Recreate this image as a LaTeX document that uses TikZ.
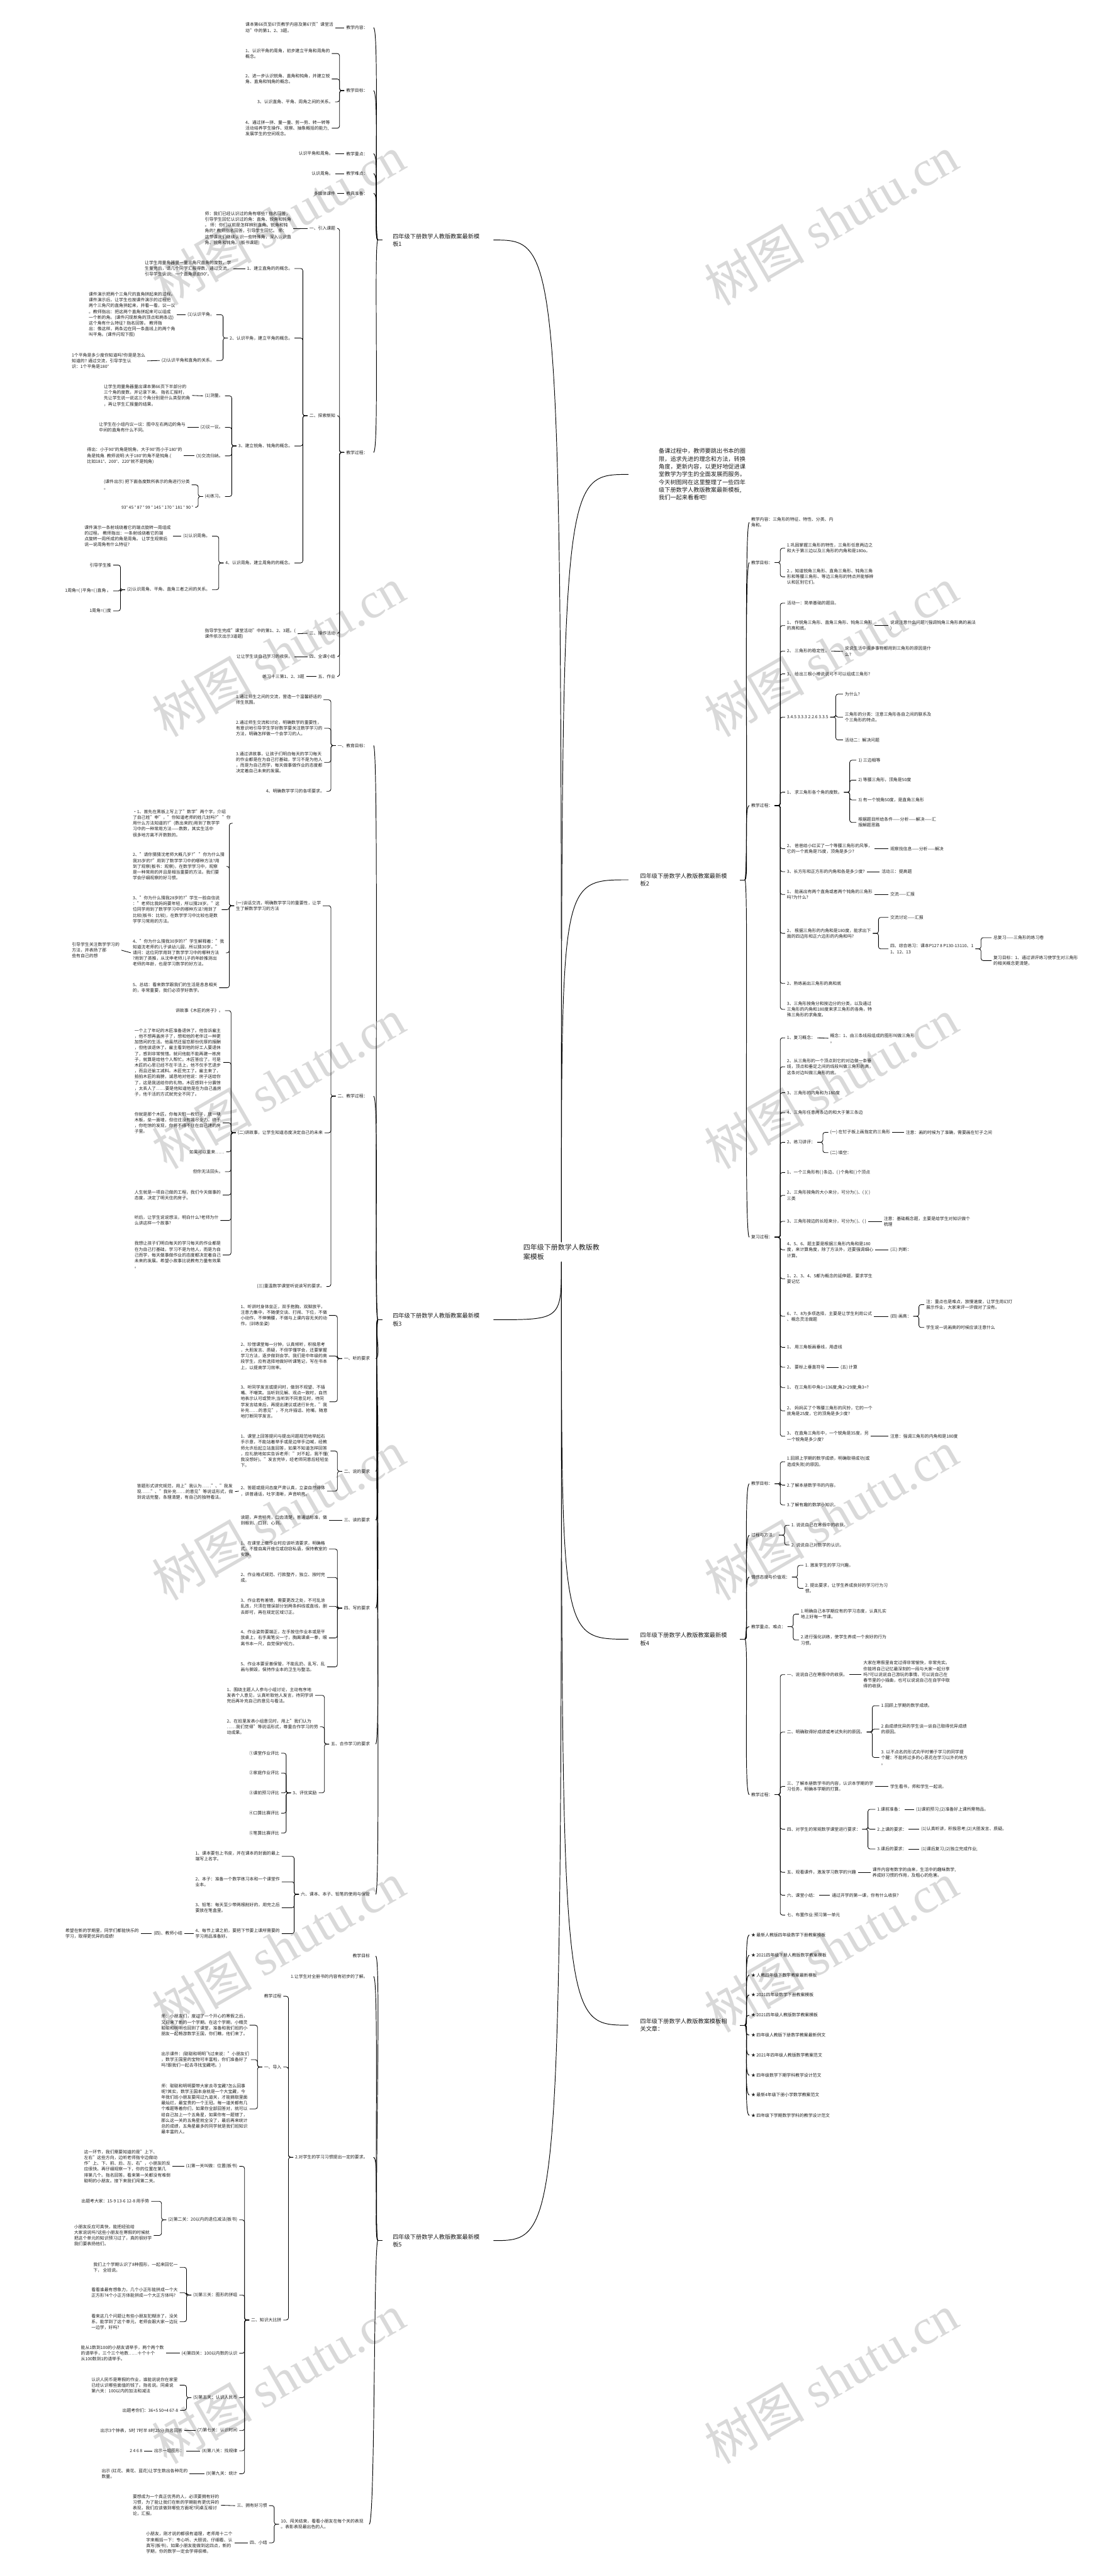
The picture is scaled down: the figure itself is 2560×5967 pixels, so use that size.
\documentclass[tikz,border=0pt]{standalone}
\usepackage{fontspec}
\setmainfont{Noto Sans CJK SC}
\newfontfamily\wmlat{Liberation Serif}
\newcommand\fs{\fontsize{5pt}{6.7pt}\selectfont}
\newcommand\fb{\fontsize{6.7pt}{9pt}\selectfont}
\newcommand\frt{\fontsize{8pt}{11pt}\selectfont}
\newcommand\fwm{\fontsize{58pt}{60pt}\selectfont}
\tikzset{
  lf/.style={font=\fs, text=black!88, align=left, anchor=west, inner xsep=2pt, inner ysep=0.3pt, xshift=-2pt},
  lfe/.style={font=\fs, text=black!88, align=left, anchor=east, inner xsep=2pt, inner ysep=0.3pt, xshift=2pt},
  bnode/.style={font=\fb, text=black!88, align=left, anchor=west, inner sep=0pt},
  cn/.style={line width=0.6pt},
  bk/.style={line width=0.6pt, rounded corners=2.5pt},
  tk/.style={line width=0.7pt},
  wm/.style={font=\fwm, text=black!15, rotate=30, inner sep=0pt},
}
\newcommand\LB[2]{\path ([xshift=-5.5pt]#1.west) coordinate (tmpb);
  \draw[bk] (#2.east) -- (tmpb |- #2.east) -- (tmpb) -- (#1.west);}
\newcommand\RB[2]{\path ([xshift=6.5pt]#1.east) coordinate (tmpb);
  \draw[bk] (#1.east) -- (tmpb) -- (tmpb |- #2.west) -- (#2.west);}
\newcommand\LL[2]{\draw[cn] (#2.east) -- (#1.west);}
\newcommand\RL[2]{\draw[cn] (#1.east) -- (#2.west);}
\newcommand\LT[2]{\draw[tk] ([xshift=-17pt]#1.west) .. controls +(-10,0) and +(14,0) .. ([xshift=4.5pt]#2.east);}
\newcommand\RT[2]{\draw[tk] ([xshift=20.5pt]#1.east) .. controls +(10,0) and +(-14,0) .. (#2.west);}
\begin{document}
\begin{tikzpicture}[x=0.5pt,y=-0.5pt]
\useasboundingbox (0,0) rectangle (2560,5967);
\fill[white] (0,0) rectangle (2560,5967);
% watermarks
\foreach \wy in {510,1510,2510,3510,4510,5510}{
  \node[wm] at (645,\wy) {树图 {\wmlat shutu.cn}};
  \node[wm] at (1925,\wy) {树图 {\wmlat shutu.cn}};
}
% ================= root
\node[font=\frt, text=black!88, align=left, inner sep=2pt] (RT) at (1300,2900) {四年级下册数学人教版教\\案模板};

% ================= left branch 1
\node[bnode] (L1) at (909,556) {四年级下册数学人教版教案最新模\\板1};
\node[lfe] (a1) at (852,64) {教学内容：};
\node[lf] (a1a) at (568,64) {课本第66页至67页教学内容及第67页"课堂活\\动"中的第1、2、3题。};
\node[lfe] (a2) at (852,210) {教学目标：};
\node[lf] (a2a) at (568,124) {1、认识平角的周角，初步建立平角和周角的\\概念。};
\node[lf] (a2b) at (568,183) {2、进一步认识锐角、直角和钝角，并建立锐\\角、直角和钝角的概念。};
\node[lfe] (a2c) at (772,236) {3、认识直角、平角、周角之间的关系。};
\node[lf] (a2d) at (568,297) {4、通过拼一拼、量一量、剪一剪、转一转等\\活动培养学生操作、观察、抽象概括的能力,\\发展学生的空间观念。};
\node[lfe] (a3) at (852,356) {教学重点：};
\node[lfe] (a3a) at (772,356) {认识平角和周角。};
\node[lfe] (a4) at (852,402) {教学难点：};
\node[lfe] (a4a) at (772,402) {认识周角。};
\node[lfe] (a5) at (852,448) {教具准备：};
\node[lfe] (a5a) at (777,448) {多媒体课件};
\node[lfe] (a6) at (852,1048) {教学过程：};
\node[lfe] (b1) at (777,529) {一、引入课题};
\node[lf] (b1a) at (474,529) {师：我们已经认识过的角有哪些? 指名回答，\\引导学生回忆认识过的角：直角、锐角和钝角\\。 师：你们以前是怎样辨别直角、锐角和钝\\角的? 教师指名回答，引导学生回忆。 师：\\这节课我们继续认识一些特殊角，深入认识直\\角、锐角和钝角。(板书课题)};
\node[lfe] (b2) at (777,963) {二、探索新知};
\node[lfe] (c1) at (678,622) {1、建立直角的的概念。};
\node[lf] (c1a) at (335,622) {让学生用量角器量一量三角尺直角的度数，学\\生量完后，请几个同学汇报得数，通过交流，\\引导学生认识：一个直角是由90°。};
\node[lfe] (c2) at (678,783) {2、认识平角，建立平角的概念。};
\node[lfe] (c2a) at (497,729) {(1)认识平角。};
\node[lfe] (c2aa) at (406,729) {课件演示把两个三角尺的直角拼起来的过程。\\课件演示后，让学生也按课件演示的过程把\\两个三角尺的直角拼起来，并看一看，议一议\\。教师指出：把这两个直角拼起来可以组成\\一个新的角。(课件闪现新角的顶点和两条边)\\这个角有什么特征? 指名回答。 教师指\\出：像这样，两条边在同一条直线上的两个角\\叫平角。(课件闪现下图)};
\node[lfe] (c2b) at (497,835) {(2)认识平角和直角的关系。};
\node[lfe] (c2ba) at (337,836) {1个平角是多少度你知道吗?你是是怎么\\知道的? 通过交流，引导学生认\\识：1个平角是180°};
\node[lfe] (c3) at (678,1033) {3、建立锐角、钝角的概念。};
\node[lfe] (c3a) at (517,917) {(1)测量。};
\node[lf] (c3aa) at (240,916) {让学生用量角器量出课本第66页下半部分的\\三个角的度数，并记录下来。 指名汇报时，\\先让学生说一说这三个角分别是什么类型的角\\，再让学生汇报量的结果。};
\node[lfe] (c3b) at (517,990) {(2)议一议。};
\node[lf] (c3ba) at (229,990) {让学生在小组内议一议：图中左右两边的角与\\中间的直角有什么不同。};
\node[lfe] (c3c) at (517,1056) {(3)交流归纳。};
\node[lfe] (c3ca) at (422,1056) {得出：小于90°的角是锐角，大于90°而小于180°的\\角是钝角. 教师说明:大于180°的角不是钝角.(\\比如181°、200°、220°就不是钝角)};
\node[lfe] (c3d) at (517,1150) {(4)练习。};
\node[lf] (c3da) at (240,1123) {(课件出示) 把下面各度数所表示的角进行分类\\。};
\node[lfe] (c3db) at (448,1175) {93° 45 ° 87 ° 99 ° 145 ° 170 ° 181 ° 90 °};
\node[lfe] (c4) at (678,1304) {4、认识周角，建立周角的的概念。};
\node[lfe] (c4a) at (487,1242) {(1)认识周角。};
\node[lfe] (c4aa) at (396,1242) {课件演示一条射线绕着它的端点旋转一周组成\\的过程。 教师指出：一条射线绕着它的端\\点旋转一周所成的角是周角。 让学生观察后\\说一说周角有什么特征?};
\node[lfe] (c4b) at (487,1366) {(2)认识周角、平角、直角三者之间的关系。};
\node[lfe] (c4b1) at (258,1309) {引导学生推};
\node[lfe] (c4b2) at (258,1369) {1周角=( )平角=( )直角 。};
\node[lfe] (c4b3) at (258,1415) {1周角=( )度};
\node[lfe] (b3) at (777,1467) {三、操作活动};
\node[lf] (b3a) at (474,1468) {指导学生完成"课堂活动"中的第1、2、3题。(\\课件依次出示3道题)};
\node[lfe] (b4) at (777,1521) {四、全课小结};
\node[lfe] (b4a) at (678,1521) {让让学生谈自己学习的收获。};
\node[lfe] (b5) at (777,1567) {五、作业};
\node[lfe] (b5a) at (705,1567) {练习十三第1、2、3题};

% ================= left branch 3
\node[bnode] (L3) at (909,3057) {四年级下册数学人教版教案最新模\\板3};
\node[lfe] (d1) at (852,1727) {一、教育目标：};
\node[lf] (d1a) at (546,1621) {1.通过师生之间的交流，营造一个温馨舒适的\\师生氛围。};
\node[lf] (d1b) at (546,1687) {2.通过师生交流和讨论，明确数学的重要性，\\有意识地引导学生学好数学要关注数学学习的\\方法，明确怎样做一个会学习的人。};
\node[lf] (d1c) at (546,1766) {3.通过讲故事，让孩子们明白每天的学习每天\\的作业都是在为自己打基础，学习不是为他人\\，而是为自己而学，每天做事做作业的态度都\\决定着自己未来的发展。};
\node[lfe] (d1d) at (752,1833) {4、明确数学学习的各项要求。};
\node[lfe] (d2) at (852,2539) {二、教学过程：};
\node[lf] (e1) at (546,2098) {(一)谈话交流，明确数学学习的重要性，让学\\生了解数学学习的方法};
\node[lf] (e1a) at (307,1907) {·1、首先在黑板上写上了"数学"两个字，介绍\\了自己姓"申"，"你知道老师的姓几划吗?" "你\\用什么方法知道的?"(数出来的)用到了数学学\\习中的一种常用方法——数数，其实生活中\\很多地方离不开数数的。};
\node[lf] (e1b) at (307,2007) {2、"请你猜猜沈老师大概几岁?" "你为什么猜\\我35岁的?"用到了数学学习中的哪种方法?用\\到了观察(板书：观察)，在数学学习中，观察\\是一种常用的并且是相当重要的方法。我们要\\学会仔细观察的好习惯。};
\node[lf] (e1c) at (307,2107) {3、"你为什么猜我28岁的?"学生一脸自信说\\："老师比我妈妈要年轻，所以猜28岁。"这\\位同学用到了数学学习中的哪种方法?用到了\\比较(板书：比较)，在数学学习中比较也是数\\学学习常用的方法。};
\node[lf] (e1d) at (307,2207) {4、"你为什么猜我30岁的?"学生解释着："我\\知道沈老师的儿子读幼儿园，所以猜30岁。"\\请问：这位同学用到了数学学习中的哪种方法\\?用到了类推，从沈申老师儿子的年龄推测出\\老师的年龄，也是学习数学的好方法。};
\node[lfe] (e1da) at (277,2201) {引导学生关注数学学习的\\方法，并表扬了那\\些有自己的想};
\node[lf] (e1e) at (307,2288) {5、总结：看来数学跟我们的生活是息息相关\\的，非常重要，我们必须学好数学。};
\node[lf] (e2) at (550,2624) {(二)讲故事，让学生知道态度决定自己的未来};
\node[lfe] (e2a) at (517,2341) {讲故事《木匠的房子》。};
\node[lf] (e2b) at (311,2461) {一个上了年纪的木匠准备退休了。他告诉雇主\\，他不想再盖房子了，想和他的老伴过一种更\\加悠闲的生活。他虽然还留恋那份优厚的报酬\\，但他该退休了。雇主看到他的好工人要退休\\了，感到非常惋惜。就问他能不能再建一栋房\\子，就算是给他个人帮忙。木匠答应了。可是\\木匠的心思已经不在干活上，他不仅手艺退步\\，而且还偷工减料。木匠完工了。雇主来了，\\拍拍木匠的肩膀，诚恳地对他说：房子送给你\\了，这是我送给你的礼物。木匠感到十分震惊\\，太丢人了……要是他知道他是在为自己盖房\\子，他干活的方式就完全不同了。};
\node[lf] (e2c) at (311,2601) {你就是那个木匠。你每天钉一枚钉子，放一块\\木板，垒一面墙，但往往没有竭尽全力。终于\\，你吃惊的发现，你将不得不住在自己建的房\\子里。};
\node[lfe] (e2d) at (520,2668) {如果可以重来……};
\node[lfe] (e2e) at (517,2714) {但你无法回头。};
\node[lf] (e2f) at (311,2768) {人生就是一项自己做的工程，我们今天做事的\\态度，决定了明天住的房子。};
\node[lf] (e2g) at (311,2827) {听后，让学生说说想法，明白什么?老师为什\\么讲这样一个故事?};
\node[lf] (e2h) at (311,2907) {我想让孩子们明白每天的学习每天的作业都是\\在为自己打基础，学习不是为他人，而是为自\\己而学，每天做事做作业的态度都决定着自己\\未来的发展。希望小故事比说教有力量有效果\\。};
\node[lfe] (e3) at (752,2980) {(三)重温数学课堂听说读写的要求。};
\node[lfe] (d3) at (857,3147) {一、听的要求};
\node[lf] (f1) at (557,3047) {1、听讲时身体坐正，双手抱胸，双脚放平，\\注意力集中，不随便交谈、打闹、下位，不做\\小动作，不伸懒腰，不做与上课内容无关的动\\作。(训练坐姿)};
\node[lf] (f2) at (557,3141) {2、珍惜课堂每一分钟，认真倾听，积极思考\\，大胆发言、质疑，不但学懂学会，还要掌握\\学习方法，逐步做到会学。我们是中年级的高\\段学生，应有选择地做好听课笔记，写在书本\\上，以提高学习效率。};
\node[lf] (f3) at (557,3247) {3、听同学发言或提问时，做到不观望、不插\\嘴、不嘲笑。当听到见解、观点一致时，自然\\地表示认可或赞许;当听到不同意见时，待同\\学发言结束后，再提出建议或进行补充，"我\\补充……的意见"，不允许插话、抢嘴，随意\\地打断同学发言。};
\node[lfe] (d4) at (857,3408) {二、说的要求};
\node[lf] (g1) at (557,3361) {1、课堂上回答提问与提出问题规范地举起右\\手示意，不能站着举手或是边举手边喊，经教\\师允许后起立站直回答，如果不知道怎样回答\\，应礼貌地如实告诉老师："对不起，我不懂(\\我没想好)。"发言完毕，经老师同意后轻轻坐\\下。};
\node[lf] (g2) at (557,3454) {2、答题或提问态度严肃认真，立姿自然得体\\，讲普通话，吐字清晰，声音响亮。};
\node[lf] (g2a) at (317,3455) {答题形式讲究规范，用上"我认为……"、"我发\\现……"、"我补充……的意见"等说话形式，做\\到说话完整，条理清楚，有自己的独特看法。};
\node[lfe] (d5) at (857,3521) {三、读的要求};
\node[lf] (h1) at (557,3521) {读题，声音响亮，口齿清楚，普通话标准，做\\到眼到、口到、心到。};
\node[lfe] (d6) at (857,3725) {四、写的要求};
\node[lf] (i1) at (557,3588) {1、在课堂上做作业时应该听清要求，明确格\\式，不擅自离开座位或窃窃私语，保持教室的\\安静。};
\node[lf] (i2) at (557,3654) {2、作业格式规范、行款整齐，独立、按时完\\成。};
\node[lf] (i3) at (557,3721) {3、作业若有差错，需要更改之处，不可乱涂\\乱改，只须在错误部分划两条斜线或直线，删\\去即可，再在规定区域订正。};
\node[lf] (i4) at (557,3794) {4、作业姿势要端正，左手按住作业本或是平\\放桌上，右手离笔尖一寸，胸离课桌一拳，眼\\离书本一尺，自觉保护视力。};
\node[lf] (i5) at (557,3861) {5、作业本要妥善保管，不能乱扔、乱写、乱\\画与撕毁，保持作业本的卫生与整洁。};
\node[lfe] (d7) at (857,4040) {五、合作学习的要求};
\node[lf] (j1) at (525,3927) {1、围绕主题人人参与小组讨论，主动有序地\\发表个人意见，认真听取他人发言，待同学讲\\完后再补充自己的意见与看法。};
\node[lf] (j2) at (525,4000) {2、在班里发表小组意见时，用上"我们认为\\……我们觉得"等说话形式，尊重合作学习的劳\\动成果。};
\node[lfe] (j3) at (734,4153) {3、评优奖励};
\node[lfe] (j3a) at (647,4061) {①课堂作业评比};
\node[lfe] (j3b) at (647,4107) {②家庭作业评比};
\node[lfe] (j3c) at (647,4153) {③课前预习评比};
\node[lfe] (j3d) at (647,4200) {④口算比赛评比};
\node[lfe] (j3e) at (647,4246) {⑤笔算比赛评比};
\node[lfe] (d8) at (857,4388) {六、课本、本子、铅笔的使用与保管};
\node[lf] (k1) at (452,4300) {1、课本要包上书皮，并在课本的封面的最上\\端写上名字。};
\node[lf] (k2) at (452,4359) {2、本子：准备一个数学练习本和一个课堂作\\业本。};
\node[lf] (k3) at (452,4419) {3、铅笔：每天至少带两根削好的，用完之后\\要放在笔盒里。};
\node[lf] (k4) at (452,4479) {4、每节上课之前，要把下节要上课所需要的\\学习用品准备好。};
\node[lfe] (k4a) at (423,4479) {(四)、教师小结};
\node[lfe] (k4aa) at (322,4479) {希望在新的学期里，同学们都能快乐的\\学习，取得更优异的成绩!};

% ================= left branch 5
\node[bnode] (L5) at (909,5190) {四年级下册数学人教版教案最新模\\板5};
\node[lfe] (m1) at (857,4531) {教学目标};
\node[lfe] (m2) at (852,4578) {1.让学生对全册书的内容有初步的了解。};
\node[lfe] (m3) at (852,4997) {2.对学生的学习习惯提出一定的要求。};
\node[lfe] (n1) at (652,4624) {教学过程};
\node[lfe] (n2) at (652,4788) {一、导入};
\node[lf] (n2a) at (373,4691) {师：小朋友们，度过了一个开心的寒假之后，\\又迎来了新的一个学期。在这个学期，小精灵\\聪聪和明明也回到了课堂，准备和我们班的小\\朋友一起畅游数学王国，你们瞧，他们来了。};
\node[lf] (n2b) at (373,4771) {出示课件：(聪聪和明明飞过来说："小朋友们\\，数学王国里的宝物可丰富啦，你们准备好了\\吗?跟我们一起去寻找宝藏吧。)};
\node[lf] (n2c) at (373,4885) {师：聪聪和明明要带大家去寻宝藏?怎么回事\\呢?其实，数学王国本身就是一个大宝藏，今\\年我们班小朋友要闯过九道关，才能摘取里面\\最灿烂，最宝贵的一个王冠。每一道关都有几\\个难题等着你们，如果你全部回答对，就可以\\给自己加上一个五角星，如果你有一题错了，\\那么这一关的五角星就全没了，最后再来统计\\总的成绩，五角星最多的同学就是我们班知识\\最丰富的人。};
\node[lfe] (n3) at (652,5374) {二、知识大比拼};
\node[lfe] (o1) at (550,5018) {(1)第一关叫做：位置(板书)};
\node[lfe] (o1a) at (395,5018) {这一环节，我们需要知道的是"上下、\\左右"这些方向，边听老师指令边做动\\作"上、下、前、后、左、右"，小朋友的反\\应很快。再仔细观察一下，你的位置在第几\\排第几个。指名回答。看来第一关都没有难倒\\聪明的小朋友。接下来我们闯第二关。};
\node[lfe] (o2) at (550,5142) {(2)第二关：20以内的退位减法(板书)};
\node[lfe] (o2a) at (346,5099) {出题考大家：15-9 13-6 12-8 用手势};
\node[lfe] (o2b) at (352,5178) {小朋友反应可真快，能把经验给\\大家说说吗?这些小朋友在寒假的时候就\\把这个单元的知识预习过了，真的很好学\\我们要表扬他们。};
\node[lfe] (o3) at (550,5316) {(3)第三关：图形的拼组};
\node[lfe] (o3a) at (412,5252) {我们上个学期认识了8种图形，一起来回忆一\\下， 全班说。};
\node[lfe] (o3b) at (412,5311) {看看谁最有想象力，几个小正形能拼成一个大\\正方形?4个小正方体能拼成一个大正方体吗?};
\node[lfe] (o3c) at (412,5378) {看来这几个问题让有些小朋友犯糊涂了，没关\\系，能学到了这个单元，老师会跟大家一边玩\\一边学，好吗?};
\node[lfe] (o4) at (550,5451) {(4)第四关：100以内数的认识};
\node[lfe] (o4a) at (380,5451) {能从1数到100的小朋友请举手，两个两个数\\的请举手，三个三个地数……十个十个\\从100数到1的请举手。};
\node[lfe] (o5) at (550,5554) {(5)第五关：认识人民币};
\node[lfe] (o5a) at (412,5525) {认识人民币是寒假的作业，谁能说说你在家里\\已经认识哪些面值的钱了。指名说。同桌说\\第六关：100以内的加法和减法};
\node[lfe] (o5b) at (413,5583) {出题考你们：36+5 50+4 67-8};
\node[lfe] (o7) at (550,5630) {(7)第七关：认识时间};
\node[lfe] (o7a) at (423,5630) {出示3个钟表，5时 7时半 8时25分 指名回答};
\node[lfe] (o8) at (550,5677) {(8)第八关：找规律};
\node[lfe] (o8a) at (427,5677) {出示一组图形：};
\node[lfe] (o8b) at (330,5677) {2 4 6 8};
\node[lfe] (o9) at (550,5730) {(9)第九关：统计};
\node[lf] (o9a) at (235,5730) {出示 (红花、黄花、蓝花)让学生数出各种花的\\数量。};
\node[lf] (m4) at (650,5847) {10、闯关结束，看看小朋友在每个关的表现\\。表彰表现最出色的人。};
\node[lfe] (p1) at (619,5804) {三、拥有好习惯};
\node[lf] (p1a) at (307,5803) {要想成为一个真正优秀的人，必须要拥有好的\\习惯，为了能让我们在新的学期能有更优异的\\表现，我们应该做到哪些方面呢?同桌互相讨\\论，汇报。};
\node[lfe] (p2) at (619,5890) {四、小结};
\node[lf] (p2a) at (338,5890) {小朋友，刚才说的都很有道理，老师用十二个\\字来概括一下：专心听、大胆说、仔细看、认\\真写(板书)，如果小朋友能做到这四点，新的\\学期，你的数学一定会学得很棒。};

% ================= right: intro
\node[bnode] (I) at (1525,1099) {备课过程中，教师要跳出书本的圈\\限，追求先进的理念和方法，转换\\角度，更新内容，以更好地促进课\\堂教学为学生的全面发展而服务。\\今天树图网在这里整理了一些四年\\级下册数学人教版教案最新模板,\\我们一起来看看吧!};

% ================= right branch 2
\node[bnode] (R2) at (1482,2038) {四年级下册数学人教版教案最新模\\板2};
\node[lf] (q1) at (1739,1210) {教学内容：三角形的特征、特性、分类、内\\角和。};
\node[lf] (q2) at (1739,1303) {教学目标：};
\node[lf] (q2a) at (1822,1270) {1.巩固掌握三角形的特性，三角形任意两边之\\和大于第三边以及三角形的内角和是180o。};
\node[lf] (q2b) at (1822,1336) {2.，知道锐角三角形、直角三角形、钝角三角\\形和等腰三角形、等边三角形的特点并能够辨\\认和区别它们。};
\node[lf] (q3) at (1739,1866) {教学过程：};
\node[lf] (r1) at (1822,1397) {活动一：简单基础的题目。};
\node[lf] (r2) at (1822,1449) {1、 作锐角三角形、直角三角形、钝角三角形\\的高和底。};
\node[lf] (r2a) at (2061,1449) {说说注意什么问题?(强调钝角三角形高的画法\\)};
\node[lf] (r3) at (1822,1508) {2、 三角形的稳定性。};
\node[lf] (r3a) at (1956,1509) {说说生活中很多事物都用到三角形的原因是什\\么?};
\node[lf] (r4) at (1822,1561) {3、 给出三根小棒说说可不可以组成三角形?};
\node[lf] (r5) at (1822,1661) {3.4.5 3.3.3 2.2.6 3.3.5};
\node[lf] (r5a) at (1956,1608) {为什么?};
\node[lf] (r5b) at (1956,1661) {三角形的分类：注意三角形各自之间的联系及\\个三角形的特点。};
\node[lf] (r5c) at (1956,1714) {活动二：解决问题};
\node[lf] (r6) at (1822,1835) {1、 求三角形各个角的度数。};
\node[lf] (r6a) at (1987,1761) {1) 三边相等};
\node[lf] (r6b) at (1987,1807) {2) 等腰三角形，顶角是50度};
\node[lf] (r6c) at (1987,1853) {3) 有一个锐角50度，是直角三角形};
\node[lf] (r6d) at (1987,1905) {根据题目所给条件——分析——解决——汇\\报解题思路};
\node[lf] (r7) at (1822,1966) {2、 爸爸给小红买了一个等腰三角形的风筝，\\它的一个底角是75度，顶角是多少?};
\node[lf] (r7a) at (2061,1966) {观察找信息——分析——解决};
\node[lf] (r8) at (1822,2019) {3、长方形和正方形的内角和各是多少度?};
\node[lf] (r8a) at (2041,2019) {活动三：提高题};
\node[lf] (r9) at (1822,2072) {1、 能画出有两个直角或者两个钝角的三角形\\吗?为什么?};
\node[lf] (r9a) at (2061,2072) {交流——汇报};
\node[lf] (r10) at (1822,2162) {2、 根据三角形的内角和是180度，能求出下\\面的四边形和正六边形的内角和吗?};
\node[lf] (r10a) at (2061,2125) {交流讨论——汇报};
\node[lf] (r10b) at (2061,2198) {四、综合练习：课本P127 8 P130-13110、1\\1、12、13};
\node[lf] (r10b1) at (2300,2172) {总复习——三角形的练习卷};
\node[lf] (r10b2) at (2300,2225) {复习目标：1、通过讲评练习使学生对三角形\\的相关概念更清楚。};
\node[lf] (r11) at (1822,2278) {2、熟练画出三角形的高和底};
\node[lf] (r12) at (1822,2338) {3、三角形按角分和按边分的分类，以及通过\\三角形的内角和180度来求三角形的各角，特\\殊三角形的求角度。};
\node[lf] (q4) at (1739,2866) {复习过程：};
\node[lf] (s1) at (1822,2404) {1、复习概念：};
\node[lf] (s1a) at (1922,2405) {概念：1、由三条线段组成的图形叫做三角形\\。};
\node[lf] (s2) at (1822,2471) {2、从三角形的一个顶点到它的对边做一条垂\\线，顶点和垂足之间的线段叫做三角形的高，\\这条对边叫做三角形的底。};
\node[lf] (s3) at (1822,2531) {3、三角形的内角和为180度};
\node[lf] (s4) at (1822,2577) {4、三角形任意两条边的和大于第三条边};
\node[lf] (s5) at (1822,2646) {2、练习讲评：};
\node[lf] (s5a) at (1922,2623) {(一) 在钉子板上画指定的三角形};
\node[lf] (s5a1) at (2097,2623) {注意：画的时候为了准确，需要画在钉子之间};
\node[lf] (s5b) at (1922,2670) {(二) 填空：};
\node[lf] (s6) at (1822,2716) {1、一个三角形有( )条边、( )个角和( )个顶点};
\node[lf] (s7) at (1822,2769) {2、三角形按角的大小来分，可分为( )、( )( )\\三类};
\node[lf] (s8) at (1822,2829) {3、三角形按边的长短来分，可分为( )、( )};
\node[lf] (s8a) at (2046,2829) {注意：基础概念题，主要是给学生对知识做个\\梳理};
\node[lf] (s9) at (1822,2895) {4、5、6、题主要是根据三角形内角和是180\\度，来计算角度，除了方法外，还要强调细心\\计算。};
\node[lf] (s9a) at (2061,2895) {(三) 判断：};
\node[lf] (s10) at (1822,2962) {1、2、3、4、5都为概念的延伸题，要求学生\\要记忆};
\node[lf] (s11) at (1822,3049) {6、7、8为多项选择，主要是让学生利用公式\\、概念灵活做题};
\node[lf] (s11a) at (2061,3049) {(四) 画高：};
\node[lf] (s11a1) at (2144,3022) {注：重点也是难点，放慢速度，让学生用幻灯\\展示作业，大家来评一评做对了没有。};
\node[lf] (s11a2) at (2144,3075) {学生说一说画高的时候应该注意什么};
\node[lf] (s12) at (1822,3121) {1、 用三角板画垂线，用虚线};
\node[lf] (s13) at (1822,3167) {2、 要标上垂直符号};
\node[lf] (s13a) at (1946,3167) {(五) 计算};
\node[lf] (s14) at (1822,3214) {1、 在三角形中角1=136度;角2=29度;角3=?};
\node[lf] (s15) at (1822,3268) {2、 妈妈买了个等腰三角形的风铃，它的一个\\底角是25度，它的顶角是多少度?};
\node[lf] (s16) at (1822,3327) {3、 在直角三角形中，一个锐角是35度，另\\一个锐角是多少度?};
\node[lf] (s16a) at (2061,3327) {注意：强调三角形的内角和是180度};

% ================= right branch 4
\node[bnode] (R4) at (1482,3797) {四年级下册数学人教版教案最新模\\板4};
\node[lf] (u1) at (1739,3437) {教学目标：};
\node[lf] (u1a) at (1822,3386) {1.回顾上学期的数学成绩，明确取得成功(或\\造成失败)的原因。};
\node[lf] (u1b) at (1822,3440) {2.了解本册数学书的内容。};
\node[lf] (u1c) at (1822,3486) {3.了解有趣的数学小知识。};
\node[lf] (u2) at (1739,3556) {过程与方法：};
\node[lf] (u2a) at (1832,3533) {1. 说说自己在寒假中的收获。};
\node[lf] (u2b) at (1832,3579) {2. 说说自己对数学的认识。};
\node[lf] (u3) at (1739,3653) {情感态度与价值观：};
\node[lf] (u3a) at (1864,3626) {1. 激发学生的学习兴趣。};
\node[lf] (u3b) at (1864,3679) {2. 提出要求，让学生养成良好的学习行为习\\惯。};
\node[lf] (u4) at (1739,3768) {教学重点、难点：};
\node[lf] (u4a) at (1854,3739) {1.明确自己本学期应有的学习态度，认真扎实\\地上好每一节课。};
\node[lf] (u4b) at (1854,3799) {2.进行强化训练，使学生养成一个良好的行为\\习惯。};
\node[lf] (u5) at (1739,4157) {教学过程：};
\node[lf] (v1) at (1822,3879) {一、说说自己在寒假中的收获。};
\node[lf] (v1a) at (1999,3879) {大家在寒假里肯定过得非常愉快，非常充实。\\你能将自己记忆最深刻的一段与大家一起分享\\吗?可以说说自己游玩的事情，可以说自己在\\春节里的小插曲，也可以说说自己在自学中取\\得的收获。};
\node[lf] (v2) at (1822,4012) {二、明确取得好成绩或考试失利的原因。};
\node[lf] (v2a) at (2040,3951) {1.回顾上学期的数学成绩。};
\node[lf] (v2b) at (2040,4005) {2.由成绩优异的学生谈一谈自己取得优异成绩\\的原因。};
\node[lf] (v2c) at (2040,4071) {3. 以不点名的形式向平时懒于学习的同学提\\个醒：不能将过多的心思花在学习以外的地方\\。};
\node[lf] (v3) at (1822,4138) {三、了解本册数学书的内容，认识本学期的学\\习任务，明确本学期的打算。};
\node[lf] (v3a) at (2061,4138) {学生看书，师和学生一起说。};
\node[lf] (v4) at (1822,4237) {四、对学生的常规数学课堂进行要求：};
\node[lf] (v4a) at (2031,4191) {1.课前准备：};
\node[lf] (v4a1) at (2121,4191) {(1)课前预习;(2)准备好上课所需物品。};
\node[lf] (v4b) at (2031,4237) {2.上课的要求：};
\node[lf] (v4b1) at (2133,4237) {(1)认真听讲，积极思考;(2)大胆发言、质疑。};
\node[lf] (v4c) at (2031,4283) {3.课后的要求：};
\node[lf] (v4c1) at (2133,4283) {(1)课后复习;(2)独立完成作业;};
\node[lf] (v5) at (1822,4337) {五、观看课件，激发学习数学的兴趣};
\node[lf] (v5a) at (2020,4337) {课件内容有数字的由来，生活中的趣味数学,\\养成好习惯的作用，及粗心的危害。};
\node[lf] (v6) at (1822,4390) {六、课堂小结：};
\node[lf] (v6a) at (1926,4390) {通过开学的第一课，你有什么收获?};
\node[lf] (v7) at (1822,4436) {七、布置作业:预习第一单元};

% ================= right branch: related articles
\node[bnode] (R6) at (1482,4691) {四年级下册数学人教版教案模板相\\关文章：};
\node[lf] (w1) at (1739,4482) {★ 最新人教版四年级数学下册教案模板};
\node[lf] (w2) at (1739,4529) {★ 2021四年级下册人教版数学教案模板};
\node[lf] (w3) at (1739,4575) {★ 人教四年级下数学教案最新模板};
\node[lf] (w4) at (1739,4621) {★ 2021四年级数学下册教案模板};
\node[lf] (w5) at (1739,4668) {★ 2021四年级人教版数学教案模板};
\node[lf] (w6) at (1739,4714) {★ 四年级人教版下册数学教案最新例文};
\node[lf] (w7) at (1739,4760) {★ 2021年四年级人教版数学教案范文};
\node[lf] (w8) at (1739,4807) {★ 四年级数学下期学科教学设计范文};
\node[lf] (w9) at (1739,4853) {★ 最新4年级下册小学数学教案范文};
\node[lf] (w10) at (1739,4900) {★ 四年级下学期数学学科的教学设计范文};

% ================= root connectors
\coordinate (L1c) at ([xshift=16pt]L1.east);
\coordinate (L3c) at ([xshift=16pt]L3.east);
\coordinate (L5c) at ([xshift=16pt]L5.east);
\coordinate (Ic) at ([xshift=-35pt]I.west);
\coordinate (R2c) at ([xshift=-13.5pt]R2.west);
\coordinate (R4c) at ([xshift=-13.5pt]R4.west);
\coordinate (R6c) at ([xshift=-13.5pt]R6.west);
\draw[tk] (RT.north) .. controls (RT.north |- L1c) .. (L1c);
\draw[tk] (RT.north) .. controls (RT.north |- Ic) .. (Ic);
\draw[tk] (RT.north) .. controls (RT.north |- R2c) .. (R2c);
\draw[tk] (RT.south) .. controls (RT.south |- L3c) .. (L3c);
\draw[tk] (RT.south) .. controls (RT.south |- L5c) .. (L5c);
\draw[tk] (RT.south) .. controls (RT.south |- R4c) .. (R4c);
\draw[tk] (RT.south) .. controls (RT.south |- R6c) .. (R6c);

% ================= branch stubs and first-level curves
\foreach \b in {L1,L3,L5}{\draw[tk] ([xshift=-12pt]\b.west) -- ([xshift=-17pt]\b.west);}
\foreach \b in {R2,R4,R6}{\draw[tk] ([xshift=15pt]\b.east) -- ([xshift=20.5pt]\b.east);}
\foreach \c in {a1,a2,a3,a4,a5,a6}{\LT{L1}{\c}}
\foreach \c in {d1,d2,d3,d4,d5,d6,d7,d8}{\LT{L3}{\c}}
\foreach \c in {m1,m2,m3,m4}{\LT{L5}{\c}}
\foreach \c in {q1,q2,q3,q4}{\RT{R2}{\c}}
\foreach \c in {u1,u2,u3,u4,u5}{\RT{R4}{\c}}
\foreach \c in {w1,w2,w3,w4,w5,w6,w7,w8,w9,w10}{\RT{R6}{\c}}

% ================= left connectors (branch 1)
\LL{a1}{a1a}
\foreach \c in {a2a,a2b,a2c,a2d}{\LB{a2}{\c}}
\LL{a3}{a3a} \LL{a4}{a4a} \LL{a5}{a5a}
\foreach \c in {b1,b2,b3,b4,b5}{\LB{a6}{\c}}
\LL{b1}{b1a}
\foreach \c in {c1,c2,c3,c4}{\LB{b2}{\c}}
\LL{c1}{c1a}
\LB{c2}{c2a} \LB{c2}{c2b} \LL{c2a}{c2aa} \LL{c2b}{c2ba}
\foreach \c in {c3a,c3b,c3c,c3d}{\LB{c3}{\c}}
\LL{c3a}{c3aa} \LL{c3b}{c3ba} \LL{c3c}{c3ca}
\LB{c3d}{c3da} \LB{c3d}{c3db}
\LB{c4}{c4a} \LB{c4}{c4b} \LL{c4a}{c4aa}
\foreach \c in {c4b1,c4b2,c4b3}{\LB{c4b}{\c}}
\LL{b3}{b3a} \LL{b4}{b4a} \LL{b5}{b5a}
% branch 3
\foreach \c in {d1a,d1b,d1c,d1d}{\LB{d1}{\c}}
\foreach \c in {e1,e2,e3}{\LB{d2}{\c}}
\foreach \c in {e1a,e1b,e1c,e1d,e1e}{\LB{e1}{\c}}
\LL{e1d}{e1da}
\foreach \c in {e2a,e2b,e2c,e2d,e2e,e2f,e2g,e2h}{\LB{e2}{\c}}
\foreach \c in {f1,f2,f3}{\LB{d3}{\c}}
\LB{d4}{g1} \LB{d4}{g2} \LL{g2}{g2a}
\LL{d5}{h1}
\foreach \c in {i1,i2,i3,i4,i5}{\LB{d6}{\c}}
\foreach \c in {j1,j2,j3}{\LB{d7}{\c}}
\foreach \c in {j3a,j3b,j3c,j3d,j3e}{\LB{j3}{\c}}
\foreach \c in {k1,k2,k3,k4}{\LB{d8}{\c}}
\LL{k4}{k4a} \LL{k4a}{k4aa}
% branch 5
\foreach \c in {n1,n2,n3}{\LB{m3}{\c}}
\foreach \c in {n2a,n2b,n2c}{\LB{n2}{\c}}
\foreach \c in {o1,o2,o3,o4,o5,o7,o8,o9}{\LB{n3}{\c}}
\LL{o1}{o1a}
\LB{o2}{o2a} \LB{o2}{o2b}
\foreach \c in {o3a,o3b,o3c}{\LB{o3}{\c}}
\LL{o4}{o4a}
\LB{o5}{o5a} \LB{o5}{o5b}
\LL{o7}{o7a} \LL{o8}{o8a} \LL{o8a}{o8b} \LL{o9}{o9a}
\LB{m4}{p1} \LB{m4}{p2} \LL{p1}{p1a} \LL{p2}{p2a}

% ================= right connectors
\RB{q2}{q2a} \RB{q2}{q2b}
\foreach \c in {r1,r2,r3,r4,r5,r6,r7,r8,r9,r10,r11,r12}{\RB{q3}{\c}}
\RL{r2}{r2a} \RL{r3}{r3a}
\foreach \c in {r5a,r5b,r5c}{\RB{r5}{\c}}
\foreach \c in {r6a,r6b,r6c,r6d}{\RB{r6}{\c}}
\RL{r7}{r7a} \RL{r8}{r8a} \RL{r9}{r9a}
\RB{r10}{r10a} \RB{r10}{r10b}
\RB{r10b}{r10b1} \RB{r10b}{r10b2}
\foreach \c in {s1,s2,s3,s4,s5,s6,s7,s8,s9,s10,s11,s12,s13,s14,s15,s16}{\RB{q4}{\c}}
\RL{s1}{s1a}
\RB{s5}{s5a} \RB{s5}{s5b} \RL{s5a}{s5a1}
\RL{s8}{s8a} \RL{s9}{s9a} \RL{s11}{s11a}
\RB{s11a}{s11a1} \RB{s11a}{s11a2}
\RL{s13}{s13a} \RL{s16}{s16a}
\foreach \c in {u1a,u1b,u1c}{\RB{u1}{\c}}
\RB{u2}{u2a} \RB{u2}{u2b}
\RB{u3}{u3a} \RB{u3}{u3b}
\RB{u4}{u4a} \RB{u4}{u4b}
\foreach \c in {v1,v2,v3,v4,v5,v6,v7}{\RB{u5}{\c}}
\RL{v1}{v1a}
\foreach \c in {v2a,v2b,v2c}{\RB{v2}{\c}}
\RL{v3}{v3a}
\foreach \c in {v4a,v4b,v4c}{\RB{v4}{\c}}
\RL{v4a}{v4a1} \RL{v4b}{v4b1} \RL{v4c}{v4c1}
\RL{v5}{v5a} \RL{v6}{v6a}
\end{tikzpicture}
\end{document}
